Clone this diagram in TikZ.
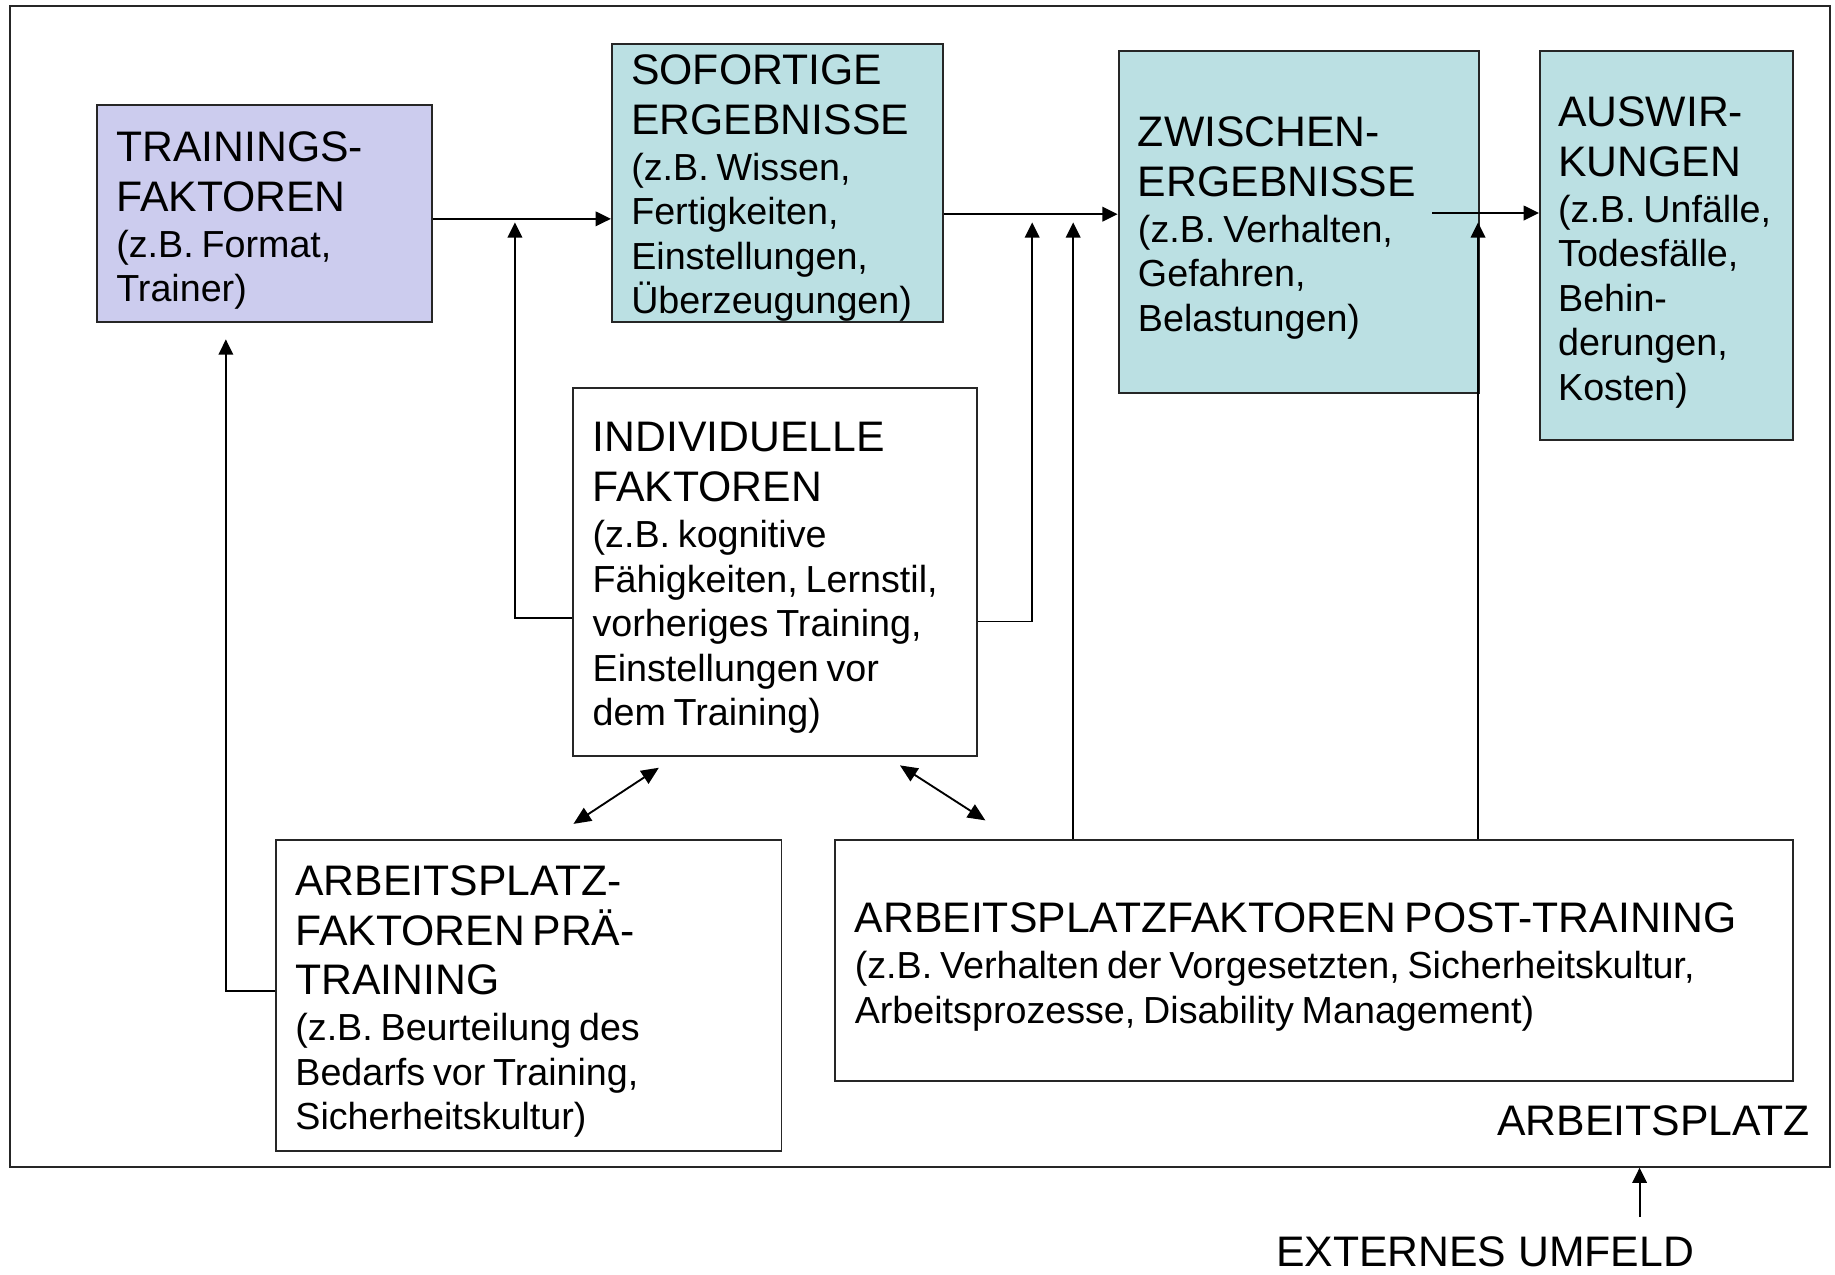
\documentclass[tikz,border=0pt]{standalone}
\usepackage{fontspec}
\setmainfont{Liberation Sans}
\usetikzlibrary{arrows.meta,calc}
\definecolor{lav}{HTML}{CCCCEE}
\definecolor{tealbox}{HTML}{BBE0E3}
\newcommand\dtitle{\fontsize{18.25}{21.25}\selectfont}
\newcommand\dsub{\par\vskip0.75pt\fontsize{16.1}{19}\selectfont\noindent}
\begin{document}
\begin{tikzpicture}[x=0.5pt,y=-0.5pt,
  box/.style={draw=black!85, line width=0.8pt, rectangle, inner sep=0pt, anchor=north west},
  txt/.style={anchor=base west, inner sep=0pt, align=left, text width=420pt},
  arr/.style={-{Triangle[length=6.5pt,width=6.2pt]}, line width=0.8pt},
  darr/.style={{Triangle[length=7.5pt,width=6.5pt]}-{Triangle[length=7.5pt,width=6.5pt]}, line width=0.8pt}]
\useasboundingbox (0,0) rectangle (1568,1089);
\fill[white] (0,0) rectangle (1568,1089);
% outer frame
\node[box, line width=0.9pt, minimum width=777.5pt, minimum height=496pt] (frame) at (8,4) {};
% boxes
\node[box, fill=lav, minimum width=143pt, minimum height=92.5pt] (tf) at (82,89) {};
\node[box, fill=tealbox, minimum width=141.5pt, minimum height=118.5pt] (so) at (522,37) {};
\node[box, fill=tealbox, minimum width=154pt, minimum height=146pt] (zw) at (955,43) {};
\node[box, fill=tealbox, minimum width=108pt, minimum height=166pt] (au) at (1315,43) {};
\node[box, fill=white, minimum width=172.5pt, minimum height=157pt] (ind) at (489,331) {};
\node[box, fill=white, minimum width=216pt, minimum height=133pt] (pre) at (235,717) {};
\node[box, fill=white, minimum width=409pt, minimum height=103pt] (post) at (713,717) {};
% texts
\node[txt] (tf-t) at (99,138) {\dtitle TRAININGS-\\FAKTOREN\dsub (z.B. Format,\\Trainer)\par};
\node[txt] (so-t) at (539,72) {\dtitle SOFORTIGE\\ERGEBNISSE\dsub (z.B. Wissen,\\Fertigkeiten,\\Einstellungen,\\Überzeugungen)\par};
\node[txt] (zw-t) at (972,125) {\dtitle ZWISCHEN-\\ERGEBNISSE\dsub (z.B. Verhalten,\\Gefahren,\\Belastungen)\par};
\node[txt] (au-t) at (1331,108) {\dtitle AUSWIR-\\KUNGEN\dsub (z.B. Unfälle,\\Todesfälle,\\Behin-\\derungen,\\Kosten)\par};
\node[txt] (ind-t) at (506,386) {\dtitle INDIVIDUELLE\\FAKTOREN\dsub (z.B. kognitive\\Fähigkeiten, Lernstil,\\vorheriges Training,\\Einstellungen vor\\dem Training)\par};
\node[txt] (pre-t) at (252,765) {\dtitle ARBEITSPLATZ-\\FAKTOREN PRÄ-\\TRAINING\dsub (z.B. Beurteilung des\\Bedarfs vor Training,\\Sicherheitskultur)\par};
\node[txt] (post-t) at (730,797) {\dtitle ARBEITSPLATZFAKTOREN POST-TRAINING\dsub (z.B. Verhalten der Vorgesetzten, Sicherheitskultur,\\Arbeitsprozesse, Disability Management)\par};
\node[anchor=base east, inner sep=0pt] (ap) at (1547,970) {\dtitle ARBEITSPLATZ};
\node[anchor=base, inner sep=0pt] (ext) at (1269,1082) {\dtitle EXTERNES UMFELD};
% free ends
\coordinate (c1) at (440,190);
\coordinate (c2) at (882,190);
\coordinate (c3) at (917,190);
\coordinate (c4) at (1263,190);
\coordinate (c5) at (193,290);
\coordinate (c6) at (490,704);
\coordinate (c7) at (563,656);
\coordinate (c8) at (769,654);
\coordinate (c9) at (842,701);
\coordinate (c10) at (1401,1040);
% connectors
\draw[arr] ($(tf.north east)+(0,98)$) -- ($(so.north west)+(0,150)$);
\draw[arr] ($(so.north east)+(0,146)$) -- ($(zw.north west)+(0,140)$);
\draw[arr] ($(zw.north west)+(269,139)$) -- ($(au.north west)+(0,139)$);
\draw[arr] ($(ind.north west)+(0,197)$) -| (c1);
\draw[arr] ($(ind.north east)+(0,200)$) -| (c2);
\draw[arr] (c3 |- post.north) -- (c3);
\draw[arr] (c4 |- post.north) -- (c4);
\draw[arr] ($(pre.north west)+(0,130)$) -| (c5);
\draw[darr] (c6) -- (c7);
\draw[darr] (c8) -- (c9);
\draw[arr] (c10) -- (c10 |- frame.south);
\end{tikzpicture}
\end{document}
